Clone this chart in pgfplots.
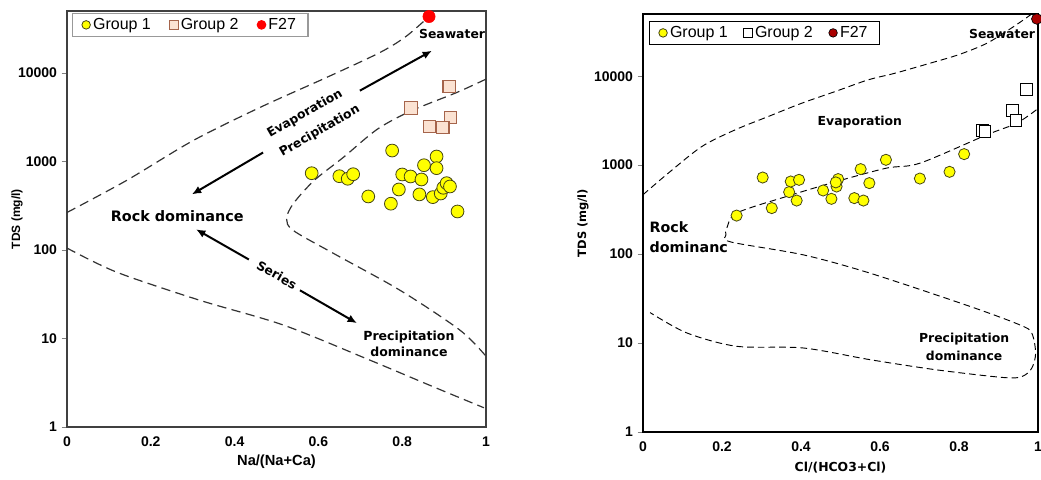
\documentclass[border=0pt]{standalone}
\usepackage{fontspec}
\setmainfont{Liberation Sans}
\newfontfamily\dv{DejaVu Sans}
\usepackage{pgfplots}
\pgfplotsset{compat=1.18}
\usetikzlibrary{arrows.meta}

\definecolor{gyellow}{RGB}{255,255,0}
\definecolor{gedge}{RGB}{70,70,20}
\definecolor{peach}{RGB}{251,226,210}
\definecolor{brownedge}{RGB}{165,100,75}
\definecolor{framegray}{RGB}{64,64,64}
\definecolor{darkred}{RGB}{170,0,0}

\tikzset{
  ann/.style={font=\dv\bfseries\fontsize{9.3}{12}\selectfont, align=center},
  arr/.style={-{Latex[length=7pt,width=6pt]}, line width=1.5pt},
}

\begin{document}
\begin{tikzpicture}
\useasboundingbox (0,0) rectangle (780.75pt,-359.25pt);

% ---- left: Na/(Na+Ca)
\begin{axis}[
  scale only axis, ymode=log,
  xmin=0, xmax=1, ymin=1, ymax=50000,
  xtick={0,0.2,0.4,0.6,0.8,1}, xticklabels={0,0.2,0.4,0.6,0.8,1},
  ytick={1,10,100,1000,10000}, yticklabels={1,10,100,1000,10000},
  yminorticks=false, xtick pos=bottom, ytick pos=left,
  tick align=outside, major tick length=4pt, xtick style={draw=none},
  tick label style={font=\fontsize{10.5}{12}\selectfont\bfseries},
  clip=false, legend cell align=left,
  width=314.25pt, height=312pt,
  at={(50.25pt,-320.25pt)}, anchor=south west,
  axis line style={framegray, line width=1.5pt},
  xlabel={Na/(Na+Ca)}, ylabel={TDS (mg/l)},
  xlabel style={font=\fontsize{11}{13}\selectfont\bfseries, at={(axis description cs:0.5,-0.084)}, anchor=center},
  ylabel style={font=\fontsize{9}{10}\selectfont\bfseries, at={(axis description cs:-0.119,0.5)}, anchor=center},
  legend image post style={mark size=3.2pt},
  legend style={at={(0.012,0.995)}, anchor=north west, legend columns=3,
    draw=gray!80, line width=0.8pt, font=\fontsize{12}{14}\selectfont,
    inner ysep=1.5pt, inner xsep=7pt,
    /tikz/every even column/.append style={column sep=12pt}},
]
\addplot[forget plot, smooth, dash pattern=on 7pt off 4pt, line width=0.9pt, black!80] coordinates {
  (0,265) (0.142,609) (0.301,1720) (0.461,4080) (0.620,8900) (0.747,17000) (0.81,26000) (0.87,46000)
};
\addplot[forget plot, smooth, dash pattern=on 7pt off 4pt, line width=0.9pt, black!80] coordinates {
  (0,105) (0.119,56) (0.317,27) (0.516,14.2) (0.715,5.9) (0.874,2.85) (0.995,1.65)
};
\addplot[forget plot, smooth, dash pattern=on 7pt off 4pt, line width=0.9pt, black!80] coordinates {
  (1,8500) (0.93,6000) (0.82,3700) (0.74,2300) (0.66,1115) (0.59,610) (0.54,333) (0.524,225)
  (0.54,166) (0.635,92) (0.795,35) (0.938,12.4) (1,6.3)
};
\addplot[only marks, mark=*, mark size=4.8pt, mark options={fill=gyellow, draw=gedge, line width=0.6pt}] coordinates {
  (0.584,736) (0.650,681) (0.670,637) (0.683,717) (0.776,1327) (0.719,402) (0.773,333)
  (0.792,482) (0.800,712) (0.820,676) (0.846,625) (0.852,906) (0.882,1136) (0.882,839)
  (0.841,424) (0.873,395) (0.892,434) (0.898,504) (0.906,568) (0.914,521) (0.932,272)
};
\addlegendentry{Group 1}
\addplot[only marks, mark=square*, mark size=4.6pt, mark options={fill=peach, draw=brownedge, line width=0.8pt}] coordinates {
  (0.912,7050) (0.821,4020) (0.916,3150) (0.865,2490) (0.897,2430)
};
\addlegendentry{Group 2}
\addplot[only marks, mark=*, mark size=4.6pt, mark options={fill=red, draw=red}] coordinates {
  (0.864,43300)
};
\addlegendentry{F27}

\node[ann] at (axis cs:0.919,27700) {Seawater};
\node[ann, rotate=30] at (axis cs:0.568,3450) {Evaporation};
\node[ann, rotate=30] at (axis cs:0.603,2200) {Precipitation};
\node[ann, font=\dv\bfseries\fontsize{10.8}{13}\selectfont] at (axis cs:0.263,239) {Rock dominance};
\node[ann, rotate=-29] at (axis cs:0.501,52) {Series};
\node[ann, font=\dv\bfseries\fontsize{9.4}{12}\selectfont] at (axis cs:0.816,8.6) {Precipitation\\dominance};
\draw[arr] (axis cs:0.699,6300) -- (axis cs:0.871,17800);
\draw[arr] (axis cs:0.468,1260) -- (axis cs:0.298,424);
\draw[arr] (axis cs:0.434,78) -- (axis cs:0.308,171);
\draw[arr] (axis cs:0.556,35) -- (axis cs:0.692,14.9);
\end{axis}

% ---- right: Cl/(HCO3+Cl)
\begin{axis}[
  scale only axis, ymode=log,
  xmin=0, xmax=1, ymin=1, ymax=50000,
  xtick={0,0.2,0.4,0.6,0.8,1}, xticklabels={0,0.2,0.4,0.6,0.8,1},
  ytick={1,10,100,1000,10000}, yticklabels={1,10,100,1000,10000},
  yminorticks=false, xtick pos=bottom, ytick pos=left,
  tick align=outside, major tick length=4pt, xtick style={draw=none},
  tick label style={font=\fontsize{10.5}{12}\selectfont\bfseries},
  clip=false, legend cell align=left,
  width=296.25pt, height=313.5pt,
  at={(482.25pt,-324pt)}, anchor=south west,
  axis line style={black, line width=0.8pt},
  xlabel={Cl/(HCO3+Cl)}, ylabel={TDS (mg/l)},
  xlabel style={font=\dv\bfseries\fontsize{9.3}{11}\selectfont, at={(axis description cs:0.5,-0.084)}, anchor=center},
  ylabel style={font=\dv\bfseries\fontsize{8.6}{10}\selectfont, at={(axis description cs:-0.152,0.5)}, anchor=center},
  legend image post style={mark size=3.2pt},
  legend style={at={(0.015,0.983)}, anchor=north west, legend columns=3,
    draw=black, line width=0.8pt, font=\fontsize{12}{14}\selectfont,
    inner ysep=1.5pt, inner xsep=7pt,
    /tikz/every even column/.append style={column sep=10pt}},
]
\addplot[forget plot, smooth, dash pattern=on 5pt off 3pt, line width=0.7pt, black] coordinates {
  (0,465) (0.064,813) (0.149,1620) (0.233,2490) (0.317,3520) (0.402,4970) (0.486,6710)
  (0.570,9090) (0.638,10800) (0.727,14000) (0.80,17500) (0.871,23500) (0.938,36000) (0.984,50000)
};
\addplot[forget plot, smooth, dash pattern=on 5pt off 3pt, line width=0.7pt, black] coordinates {
  (0.996,4190) (0.946,2960) (0.870,2190) (0.701,1052) (0.616,925) (0.490,655) (0.363,444)
  (0.237,289) (0.212,195) (0.210,165) (0.222,137) (0.406,98) (0.575,61) (0.828,25.8)
  (0.954,16) (0.984,13) (0.994,7.7) (0.984,5.2) (0.959,4.2) (0.912,4.1) (0.743,5.0)
  (0.575,6.5) (0.406,8.8) (0.237,9.2) (0.111,13) (0.018,22)
};
\addplot[only marks, mark=*, mark size=4.2pt, mark options={fill=gyellow, draw=gedge, line width=0.6pt}] coordinates {
  (0.237,271) (0.303,726) (0.326,329) (0.370,498) (0.374,655) (0.395,684) (0.389,400)
  (0.456,519) (0.477,418) (0.490,575) (0.494,697) (0.488,640) (0.535,426) (0.558,400)
  (0.551,902) (0.573,628) (0.615,1148) (0.701,707) (0.776,841) (0.813,1330)
};
\addlegendentry{Group 1}
\addplot[only marks, mark=square*, mark size=4.4pt, mark options={fill=white, draw=black, line width=0.7pt}] coordinates {
  (0.860,2450) (0.866,2400) (0.935,4110) (0.944,3170) (0.970,7140)
};
\addlegendentry{Group 2}
\addplot[only marks, mark=*, mark size=4pt, mark options={fill=darkred, draw=black, line width=0.5pt}] coordinates {
  (0.997,44000)
};
\addlegendentry{F27}

\node[ann] at (axis cs:0.909,29900) {Seawater};
\node[ann] at (axis cs:0.549,3070) {Evaporation};
\node[ann, anchor=west, align=left, font=\dv\bfseries\fontsize{10.7}{15}\selectfont] at (axis cs:0.005,156) {Rock\\dominanc};
\node[ann, font=\dv\bfseries\fontsize{9.3}{13.5}\selectfont] at (axis cs:0.813,9.1) {Precipitation\\dominance};
\end{axis}
\end{tikzpicture}
\end{document}
